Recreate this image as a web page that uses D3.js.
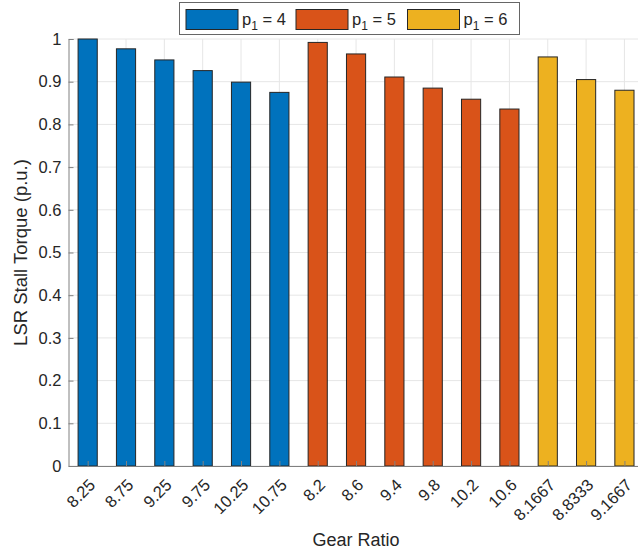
<!DOCTYPE html>
<html><head><meta charset="utf-8">
<script src="https://cdn.jsdelivr.net/npm/d3@7"></script>
<style>body{margin:0;background:#fff;overflow:hidden}svg{display:block;font-family:Arial,"Liberation Sans",sans-serif}</style>
</head><body>
<script>
const categories = ["8.25","8.75","9.25","9.75","10.25","10.75","8.2","8.6","9.4","9.8","10.2","10.6","8.1667","8.8333","9.1667"];
const values = [1.0,0.977,0.951,0.926,0.899,0.875,0.992,0.965,0.911,0.885,0.859,0.836,0.958,0.905,0.880];
const groups = [0,0,0,0,0,0,1,1,1,1,1,1,2,2,2];
const seriesNames = ["4","5","6"];
const colors = ["#0072BD","#D95319","#EDB120"];
const yTicks = [0,0.1,0.2,0.3,0.4,0.5,0.6,0.7,0.8,0.9,1];

const W=638,H=558;
const svg=d3.select("body").append("svg").attr("width",W).attr("height",H);
const x=d3.scaleLinear().domain([0.5,15.5]).range([68.5,643.6]);
const y=d3.scaleLinear().domain([0,1]).range([466,39]);
const unit=x(2)-x(1);

// grid
const g=svg.append("g");
g.selectAll(".gy").data(yTicks).join("line").attr("x1",x(0.5)).attr("x2",x(15.5))
 .attr("y1",d=>y(d)).attr("y2",d=>y(d)).attr("stroke","#e6e6e6").attr("stroke-width",1);
g.selectAll(".gx").data(categories).join("line").attr("x1",(d,i)=>x(i+1)).attr("x2",(d,i)=>x(i+1))
 .attr("y1",y(0)).attr("y2",y(1)).attr("stroke","#e6e6e6").attr("stroke-width",1);

// bars
svg.append("g").selectAll("rect").data(values).join("rect")
 .attr("x",(d,i)=>x(i+1)-unit*0.25).attr("width",unit*0.5)
 .attr("y",d=>y(d)).attr("height",d=>y(0)-y(d))
 .attr("fill",(d,i)=>colors[groups[i]]).attr("stroke","#262626").attr("stroke-width",1);

// axes
const yAxis=d3.axisLeft(y).tickValues(yTicks).tickFormat(d=>d3.format("")(d)).tickSize(-5).tickPadding(7);
const ya=svg.append("g").attr("transform",`translate(${x(0.5)},0)`).call(yAxis);
ya.select(".domain").attr("stroke","#808080");
ya.selectAll(".tick line").attr("stroke","#808080");
ya.selectAll("text").attr("font-size",16.5).attr("fill","#262626");

const xAxis=d3.axisBottom(x).tickValues(d3.range(1,16)).tickFormat(d=>categories[d-1]).tickSize(-5).tickSizeOuter(0);
const xa=svg.append("g").attr("transform",`translate(0,${y(0)})`).call(xAxis);
xa.select(".domain").attr("stroke","#808080");
xa.selectAll(".tick line").attr("stroke","#808080");
xa.selectAll("text").attr("font-size",16.5).attr("fill","#262626")
 .attr("text-anchor","end").attr("dy","0").attr("y",0)
 .attr("transform","translate(8,20) rotate(-45)");

svg.append("text").attr("x",356).attr("y",546).attr("text-anchor","middle")
 .attr("font-size",18).attr("fill","#262626").text("Gear Ratio");
svg.append("text").attr("transform",`translate(26.5,${(y(0)+y(1))/2}) rotate(-90)`).attr("text-anchor","middle")
 .attr("font-size",18.5).attr("fill","#262626").text("LSR Stall Torque (p.u.)");

// legend
const lg=svg.append("g");
lg.append("rect").attr("x",179.5).attr("y",2.5).attr("width",340).attr("height",32)
 .attr("fill","#fff").attr("stroke","#666").attr("stroke-width",1);
const lx=[186,296,407.5];
seriesNames.forEach((s,i)=>{
 lg.append("rect").attr("x",lx[i]).attr("y",9.5).attr("width",52).attr("height",20)
  .attr("fill",colors[i]).attr("stroke","#262626").attr("stroke-width",1);
 const t=lg.append("text").attr("x",lx[i]+56).attr("y",25).attr("font-size",16.5).attr("fill","#262626");
 t.append("tspan").text("p");
 t.append("tspan").attr("font-size",12).attr("dy",5).text("1");
 t.append("tspan").attr("dy",-5).text(" = "+s);
});
</script>
</body></html>
